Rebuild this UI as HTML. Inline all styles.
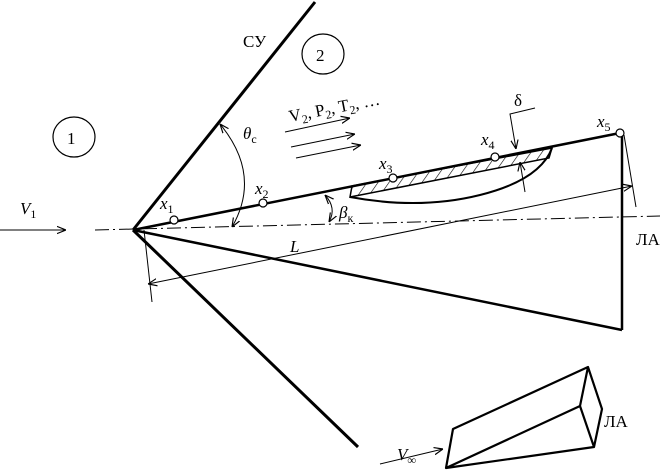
<!DOCTYPE html>
<html><head><meta charset="utf-8"><style>html,body{margin:0;padding:0;background:#fff}svg{display:block}text{font-family:"Liberation Serif","DejaVu Serif",serif;fill:#000}</style></head>
<body>
<svg width="667" height="471" viewBox="0 0 667 471" xmlns="http://www.w3.org/2000/svg">
<defs>
<marker id="a" viewBox="0 0 10 10" refX="10" refY="5" markerWidth="9" markerHeight="9" orient="auto-start-reverse" markerUnits="userSpaceOnUse"><path d="M0,1 L10,5 L0,9" fill="none" stroke="#000" stroke-width="1.3"/></marker>
<pattern id="h" width="9" height="9" patternUnits="userSpaceOnUse" patternTransform="rotate(35)"><line x1="0" y1="0" x2="0" y2="9" stroke="#000" stroke-width="1.2"/></pattern>
</defs>
<g stroke="#000" fill="none">
<line x1="95" y1="230" x2="660" y2="216" stroke-width="1" stroke-dasharray="14,4,2,4"/>
<line x1="0" y1="230" x2="66" y2="230" stroke-width="1" marker-end="url(#a)"/>
<line x1="133" y1="230" x2="315" y2="2" stroke-width="3"/>
<line x1="133" y1="230" x2="358" y2="447" stroke-width="3"/>
<line x1="133" y1="230" x2="620" y2="133" stroke-width="2.5"/>
<line x1="133" y1="230" x2="622" y2="330" stroke-width="2.5"/>
<line x1="622" y1="135" x2="622" y2="330" stroke-width="2.5"/>
<ellipse cx="74" cy="137" rx="21" ry="20" stroke-width="1.2"/>
<ellipse cx="323" cy="54" rx="21" ry="20" stroke-width="1.2"/>
<path d="M220,124 Q262,175 232,227" stroke-width="1" marker-start="url(#a)" marker-end="url(#a)"/>
<path d="M325,195 Q337,208 329,222" stroke-width="1" marker-start="url(#a)" marker-end="url(#a)"/>
<line x1="285" y1="132" x2="350" y2="118" stroke-width="1" marker-end="url(#a)"/>
<line x1="291" y1="147" x2="355" y2="134" stroke-width="1" marker-end="url(#a)"/>
<line x1="296" y1="158" x2="361" y2="145" stroke-width="1" marker-end="url(#a)"/>
<path d="M352,186 L552,148 L549,158 L350,197 Z" fill="url(#h)" stroke-width="1.5"/>
<path d="M350,197 Q420,210 480,195 Q540,180 552,148" stroke-width="2"/>
<path d="M535,108 L510,114 L516,149" stroke-width="1" marker-end="url(#a)"/>
<line x1="525" y1="192" x2="520" y2="162" stroke-width="1" marker-end="url(#a)"/>
<line x1="148" y1="284" x2="632" y2="186" stroke-width="1" marker-start="url(#a)" marker-end="url(#a)"/>
<line x1="624" y1="135" x2="636" y2="207" stroke-width="1"/>
<line x1="144" y1="230" x2="152" y2="302" stroke-width="1"/>
<path d="M453,429 L588,367 L602,409 L594,447 L446,468 Z M446,468 L580,406 L588,367 M580,406 L594,447" stroke-width="2.2" stroke-linejoin="round"/>
<line x1="380" y1="464" x2="443" y2="449" stroke-width="1" marker-end="url(#a)"/>
</g>
<g fill="#fff" stroke="#000" stroke-width="1.2">
<circle cx="174" cy="220" r="4"/><circle cx="263" cy="203" r="4"/><circle cx="393" cy="178" r="4"/><circle cx="495" cy="157" r="4"/><circle cx="620" cy="133" r="4"/>
</g>
<g font-size="17">
<text x="67" y="144">1</text><text x="316" y="61">2</text>
<text x="243" y="47">СУ</text>
<text x="20" y="214" font-style="italic">V<tspan font-size="12" font-style="normal" dy="4">1</tspan></text>
<text x="243" y="139" font-style="italic">θ<tspan font-size="12" font-style="normal" dy="4">с</tspan></text>
<text x="339" y="218" font-style="italic">β<tspan font-size="12" font-style="normal" dy="4">к</tspan></text>
<text x="160" y="209" font-style="italic">x<tspan font-size="12" font-style="normal" dy="4">1</tspan></text>
<text x="255" y="194" font-style="italic">x<tspan font-size="12" font-style="normal" dy="4">2</tspan></text>
<text x="379" y="169" font-style="italic">x<tspan font-size="12" font-style="normal" dy="4">3</tspan></text>
<text x="481" y="145" font-style="italic">x<tspan font-size="12" font-style="normal" dy="4">4</tspan></text>
<text x="597" y="127" font-style="italic">x<tspan font-size="12" font-style="normal" dy="4">5</tspan></text>
<text x="514" y="106">δ</text>
<text x="290" y="252" font-style="italic">L</text>
<text x="636" y="245">ЛА</text>
<text x="604" y="427">ЛА</text>
<text x="397" y="460" font-style="italic">V<tspan font-size="12" dy="4">∞</tspan></text>
<text x="290" y="122" transform="rotate(-11 290 122)">V<tspan font-size="12" dy="4">2</tspan><tspan dy="-4">, P</tspan><tspan font-size="12" dy="4">2</tspan><tspan dy="-4">, T</tspan><tspan font-size="12" dy="4">2</tspan><tspan dy="-4">, …</tspan></text>
</g>
</svg>
</body></html>
